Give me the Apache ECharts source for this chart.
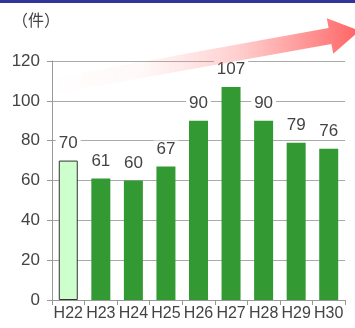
<!DOCTYPE html>
<html>
<head>
<meta charset="utf-8">
<script src="https://cdn.jsdelivr.net/npm/echarts@6/dist/echarts.min.js"></script>
<style>
  html, body { margin: 0; padding: 0; background: #fff; }
  #main { width: 355px; height: 328px; }
</style>
</head>
<body>
<div id="main"></div>
<script>
// 年度（平成）
var years = ["H22", "H23", "H24", "H25", "H26", "H27", "H28", "H29", "H30"];
// 件数
var counts = [70, 61, 60, 67, 90, 107, 90, 79, 76];
var yTicks = [0, 20, 40, 60, 80, 100, 120];

var chart = echarts.init(document.getElementById("main"));

var barData = [];
for (var i = 0; i < counts.length; i++) {
  var item = { value: counts[i] };
  if (i === 0) {
    // 最初の年だけ薄い緑
    item.itemStyle = { color: "#ccffcc", borderColor: "#333", borderWidth: 1 };
  }
  barData.push(item);
}

var option = {
  animation: false,
  textStyle: { fontFamily: "Liberation Sans, Arial, sans-serif" },
  grid: { left: 52, right: 10, top: 61, bottom: 28 },
  xAxis: {
    type: "category",
    data: years,
    axisLine: { lineStyle: { color: "#999" } },
    axisTick: { show: true, length: 5, lineStyle: { color: "#999" } },
    axisLabel: { interval: 0, color: "#444", fontSize: 16, margin: 6 }
  },
  yAxis: {
    type: "value",
    min: yTicks[0],
    max: yTicks[yTicks.length - 1],
    interval: 20,
    axisLine: { show: true, lineStyle: { color: "#999" } },
    axisTick: { show: true, length: 5, lineStyle: { color: "#999" } },
    axisLabel: { color: "#444", fontSize: 17, margin: 12 },
    splitLine: { lineStyle: { color: "#aaa", width: 1 } }
  },
  series: [
    {
      type: "bar",
      data: barData,
      barWidth: 19,
      itemStyle: { color: "#339933" },
      label: {
        show: true,
        position: "top",
        distance: 9,
        color: "#444",
        fontSize: 17,
        backgroundColor: "#fff",
        padding: [0, 3]
      },
      z: 2
    }
  ],
  graphic: [
    // 上の帯
    {
      type: "rect",
      shape: { x: 0, y: 0, width: 355, height: 3 },
      style: { fill: "#333399" },
      z: 10
    },
    {
      type: "text",
      left: 12,
      top: 12,
      style: { text: "（件）", fill: "#444", font: "16px 'Noto Sans CJK JP', sans-serif" },
      z: 10
    },
    // 増加の矢印
    {
      type: "polygon",
      shape: {
        points: [
          [48.6, 78.5], [328.6, 28.1], [326.8, 18.3], [359.5, 30.7],
          [333.2, 53.7], [331.4, 43.9], [51.4, 94.3]
        ]
      },
      style: {
        fill: new echarts.graphic.LinearGradient(0, 0, 1, 0, [
          { offset: 0, color: "rgba(255,120,120,0)" },
          { offset: 0.3, color: "rgba(255,140,140,0.06)" },
          { offset: 0.6, color: "rgba(255,120,120,0.35)" },
          { offset: 1, color: "rgba(255,90,90,0.95)" }
        ])
      },
      z: 5
    }
  ]
};

chart.setOption(option);
</script>
</body>
</html>
